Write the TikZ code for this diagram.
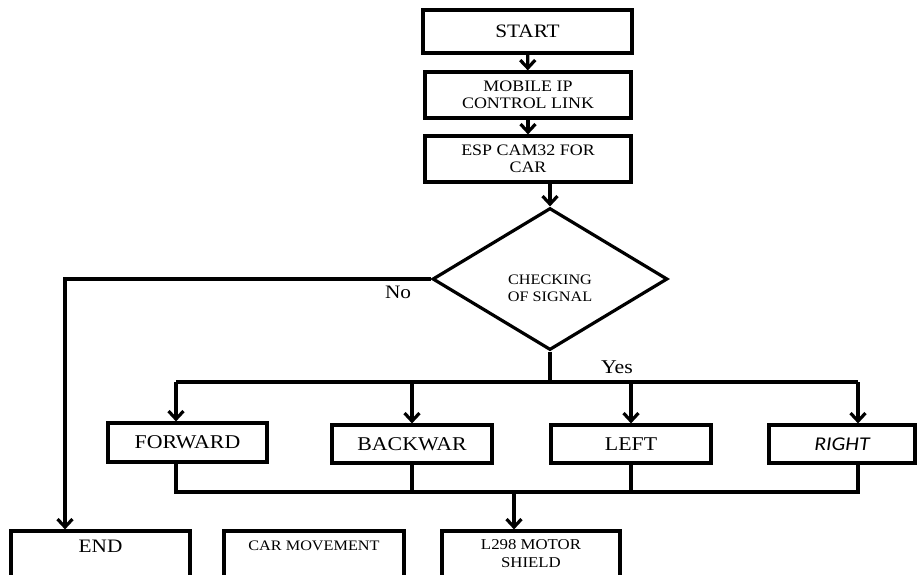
\documentclass[tikz,border=0pt]{standalone}
\usepackage{fontspec}
\setmainfont{Liberation Serif}[FakeStretch=1.12]
\newfontfamily\rightfont{Carlito}[FakeStretch=1.12]
\usetikzlibrary{shapes.geometric,arrows.meta}
\begin{document}
\begin{tikzpicture}[x=1pt,y=-1pt,>={Straight Barb[length=8pt,width=15pt]},
    line width=3.2pt,
    box/.style={draw,line width=3.2pt,inner sep=0pt,align=center},
    fs/.style={font=\fontsize{#1}{17}\selectfont}]
\useasboundingbox (0,0) rectangle (920,574);
\fill[white] (0,0) rectangle (920,574);
\clip (0,0) rectangle (920,574);
% top column
\node[box,fs=19,minimum width=209pt,minimum height=43pt] (start) at (527.5,31.5) {START};
\node[box,fs=16,minimum width=206pt,minimum height=46pt] (mobile) at (528,95) {MOBILE IP\\CONTROL LINK};
\node[box,fs=16,minimum width=206pt,minimum height=46pt] (esp) at (528,159) {ESP CAM32 FOR\\CAR};
\node[box,diamond,minimum width=235pt,minimum height=142pt] (chk) at (550,279) {};
\node[fs=14.5,align=center] (chktxt) at (550,288) {CHECKING\\OF SIGNAL};
% directions
\node[box,fs=19.5,minimum width=159pt,minimum height=39pt] (forward) at (187.5,442.5) {FORWARD};
\node[box,fs=19.5,minimum width=160pt,minimum height=38pt] (backwar) at (412,444) {BACKWAR};
\node[box,fs=19.5,minimum width=160pt,minimum height=38pt] (left) at (631,444) {LEFT};
\node[box,minimum width=146pt,minimum height=38pt,font=\rightfont\itshape\fontsize{19.5}{19}\selectfont] (right) at (842,444) {RIGHT};
% bottom row (cut off by the page edge)
\node[box,fs=19,minimum width=179pt,minimum height=52pt] (endbox) at (100.5,557) {END\\\strut};
\node[box,fs=14.5,minimum width=180pt,minimum height=52pt] (car) at (314,557) {CAR MOVEMENT\\\strut};
\node[box,font=\fontsize{15}{18}\selectfont,minimum width=178pt,minimum height=46pt] (motor) at (531,554) {L298 MOTOR\\SHIELD};
% labels
\node[fs=19] (no) at (398,292) {No};
\node[fs=19.5] (yes) at (617,367) {Yes};
% connectors
\coordinate (nocorner) at (65,279);
\coordinate (busL) at (176,382);
\coordinate (busR) at (858,382);
\coordinate (lowL) at (176,492);
\coordinate (lowR) at (858,492);
\coordinate (join) at (514,492);
\draw[->] (start) -- (mobile);
\draw[->] (mobile) -- (esp);
\draw[->] (esp.south -| chk.north) -- (chk.north);
\draw[->] (chk.west) -- (nocorner) -- (nocorner |- endbox.north);
\draw (chk.south) -- (chk.south |- busL);
\draw (busL) -- (busR);
\draw[->] (busL) -- (busL |- forward.north);
\draw[->] (backwar.north |- busL) -- (backwar.north);
\draw[->] (left.north |- busL) -- (left.north);
\draw[->] (busR) -- (busR |- right.north);
\draw (busL |- forward.south) -- (lowL) -- (lowR) -- (busR |- right.south);
\draw (backwar.south) -- (backwar.south |- lowL);
\draw (left.south) -- (left.south |- lowL);
\draw[->] (join) -- (join |- motor.north);
\end{tikzpicture}
\end{document}
